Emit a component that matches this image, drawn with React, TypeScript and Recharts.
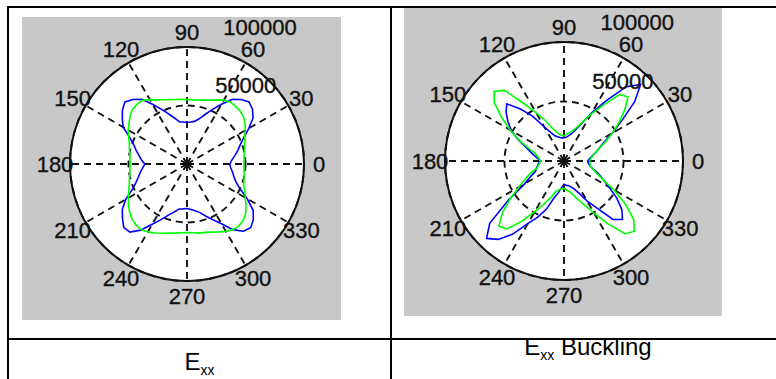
import { PolarAngleAxis, PolarGrid, PolarRadiusAxis, Radar, RadarChart } from 'recharts'

// sample angles, 5° apart, counter-clockwise from 0°
const ANGLES = Array.from({ length: 72 }, (_, i) => i * 5)
const SPOKES = [0, 30, 60, 90, 120, 150, 180, 210, 240, 270, 300, 330]
const RINGS = [50000, 100000]
const R_MAX = 100000

// E_xx, one value per entry of ANGLES
const EXX_BLUE = [
  36500, 38500, 41500, 45000, 48500, 53500, 61000, 69000, 73000, 75000, 72000, 67500, 59000, 51500, 45000, 40000, 37000, 36000,
  35500, 36000, 36500, 40500, 45500, 51500, 59000, 67500, 72000, 75000, 72000, 67500, 63000, 54000, 48500, 45000, 41500, 39000,
  36000, 38000, 40500, 43000, 46500, 51500, 60500, 67500, 72000, 76500, 76000, 69000, 59500, 52500, 46500, 42500, 39000, 38500,
  38000, 39000, 40500, 43000, 47500, 52500, 59000, 68500, 75000, 77000, 74000, 69000, 59500, 50000, 44500, 41500, 39500, 37500
]
const EXX_GREEN = [
  48500, 49000, 49500, 51000, 52500, 54500, 57500, 60500, 63000, 64000, 64500, 64500, 63000, 60500, 58000, 56500, 55500, 55000,
  55000, 55500, 56000, 57000, 58500, 60500, 63500, 66500, 66500, 66000, 63500, 60500, 58000, 55000, 52500, 51000, 49500, 49000,
  48500, 49000, 49500, 51000, 52500, 55000, 58000, 61000, 64000, 66500, 68000, 68500, 67000, 65000, 63000, 61000, 60000, 59000,
  58500, 59000, 60000, 60500, 62000, 64000, 66500, 68500, 69000, 68000, 65500, 61500, 57500, 54500, 51500, 50500, 49500, 49000
]

// E_xx Buckling
const BUCKLING_BLUE = [
  20000, 21500, 24000, 27500, 31500, 37000, 47000, 59500, 77500, 91000, 81500, 62000, 47000, 34500, 27500, 23500, 21500, 20000,
  19500, 19500, 20000, 21000, 22500, 26500, 33000, 46000, 57000, 68000, 63500, 57500, 51000, 42500, 34000, 29000, 25000, 22000,
  19500, 21500, 22500, 24000, 25500, 31000, 38000, 56500, 81500, 92000, 86000, 75000, 60500, 52000, 43000, 32000, 27000, 22500,
  19500, 20500, 21000, 22500, 25000, 30000, 39000, 48000, 64000, 69500, 63500, 54000, 43500, 36000, 30500, 25000, 22000, 20500
]
const BUCKLING_GREEN = [
  21500, 22500, 24500, 27500, 32000, 38500, 47000, 56500, 66500, 76000, 73000, 57000, 45500, 35500, 29500, 26000, 24000, 22500,
  21000, 21500, 23000, 25500, 29500, 38000, 47000, 59000, 77500, 83000, 76500, 64000, 52500, 42000, 32000, 25500, 22500, 21000,
  20000, 20500, 22000, 23500, 30000, 36000, 43500, 55000, 67500, 77500, 74500, 62000, 49000, 40000, 33000, 26500, 24500, 23500,
  23000, 24500, 26000, 29500, 34500, 41000, 50500, 64500, 80000, 83500, 76500, 63000, 48000, 35500, 28500, 25000, 22500, 22000
]

const FONT = '"Liberation Sans", Arial, Helvetica, sans-serif'
const INK = '#111'

type Row = { angle: number; blue: number; green: number }

// rows go clockwise from 0° because the angle range below runs 360 -> 0
const toRows = (blue: number[], green: number[]): Row[] => {
  const rows = ANGLES.map((angle, i) => ({ angle, blue: blue[i], green: green[i] }))
  return [rows[0], ...rows.slice(1).reverse()]
}

const labelStyle = {
  fontSize: 22,
  fontFamily: FONT,
  fill: INK,
  stroke: INK,
  strokeWidth: 0.35
}

const angleTick = (props: any) => {
  const value = Number(props.payload.value)
  if (value % 30 !== 0) return <g />
  return (
    <text x={props.x} y={props.y} textAnchor="middle" dominantBaseline="central" {...labelStyle}>
      {value}
    </text>
  )
}

const radiusTick = (props: any) => (
  <text x={props.x + 20} y={props.y - 21} textAnchor="start" dominantBaseline="central" {...labelStyle}>
    {props.payload.value}
  </text>
)

interface PolarPanelProps {
  blue: number[]
  green: number[]
  left: number
  top: number
  width: number
  height: number
  cx: number
  cy: number
  radius: number
}

const PolarPanel = ({ blue, green, left, top, width, height, cx, cy, radius }: PolarPanelProps) => {
  const data = toRows(blue, green)
  const ringRadii = RINGS.map((v) => (v / R_MAX) * radius)
  return (
    <div style={{ position: 'absolute', left, top, width, height, background: '#c8c8c8' }}>
      <div
        style={{
          position: 'absolute',
          left: cx - radius,
          top: cy - radius,
          width: radius * 2,
          height: radius * 2,
          borderRadius: '50%',
          background: '#fff'
        }}
      />
      <div style={{ position: 'absolute', left: 0, top: 0 }}>
        <RadarChart
          width={width}
          height={height}
          data={data}
          cx={cx}
          cy={cy}
          outerRadius={radius}
          startAngle={360}
          endAngle={0}
          margin={{ top: 0, right: 0, bottom: 0, left: 0 }}
        >
          <PolarGrid
            gridType="circle"
            polarAngles={SPOKES}
            polarRadius={ringRadii}
            stroke={INK}
            strokeWidth={1.9}
            strokeDasharray="7 5"
          />
          <PolarGrid
            gridType="circle"
            polarAngles={[]}
            polarRadius={[radius]}
            radialLines={false}
            stroke={INK}
            strokeWidth={2}
          />
          <PolarAngleAxis dataKey="angle" axisLine={false} tickLine={false} tickSize={15} tick={angleTick} />
          <PolarRadiusAxis
            angle={82}
            domain={[0, R_MAX]}
            ticks={RINGS}
            axisLine={false}
            tickLine={false}
            tick={radiusTick}
          />
          <Radar dataKey="blue" stroke="#0000ff" strokeWidth={1.6} fill="none" dot={false} isAnimationActive={false} />
          <Radar dataKey="green" stroke="#00ff00" strokeWidth={1.6} fill="none" dot={false} isAnimationActive={false} />
        </RadarChart>
      </div>
    </div>
  )
}

const rule = (left: number, top: number, width: number, height: number) => (
  <div style={{ position: 'absolute', left, top, width, height, background: '#000' }} />
)

const subStyle = { fontSize: 14, position: 'relative' as const, top: 5 }

export default function App() {
  return (
    <div
      style={{
        position: 'absolute',
        left: 0,
        top: 0,
        width: 776,
        height: 379,
        overflow: 'hidden',
        background: '#fff',
        fontFamily: FONT
      }}
    >
      <style>{'.recharts-surface { overflow: visible; }'}</style>
      {rule(7, 6, 769, 2)}
      {rule(7, 6, 2, 373)}
      {rule(390, 6, 2, 373)}
      {rule(7, 338, 769, 2)}

      <PolarPanel blue={EXX_BLUE} green={EXX_GREEN} left={22} top={17} width={319} height={303} cx={165} cy={147} radius={117} />
      <PolarPanel
        blue={BUCKLING_BLUE}
        green={BUCKLING_GREEN}
        left={404}
        top={8}
        width={318}
        height={308}
        cx={160}
        cy={153}
        radius={119}
      />

      <div style={{ position: 'absolute', left: 9, width: 381, top: 350, textAlign: 'center', fontSize: 24, lineHeight: '24px' }}>
        E<span style={subStyle}>xx</span>
      </div>
      <div style={{ position: 'absolute', left: 392, width: 392, top: 335, textAlign: 'center', fontSize: 24, lineHeight: '24px' }}>
        E<span style={subStyle}>xx</span> Buckling
      </div>
    </div>
  )
}
